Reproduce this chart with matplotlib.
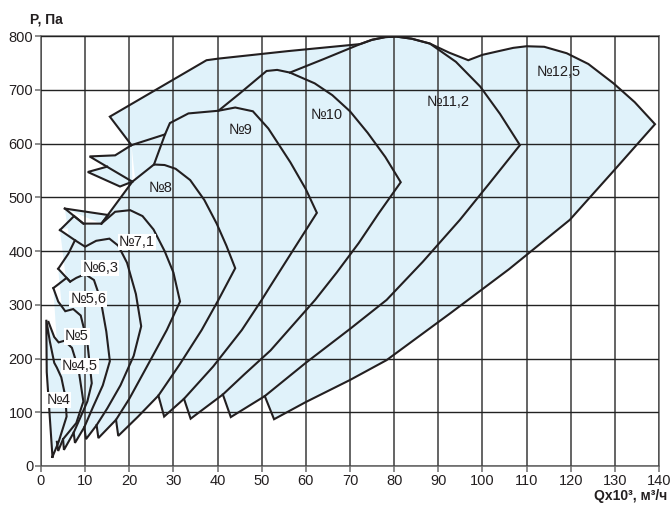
import matplotlib
matplotlib.use("Agg")
import matplotlib.pyplot as plt

# outline of every fan zone (Q in 10^3 m3/h, P in Pa):
# left tip, max pressure arc, right edge, lower limit curve, bottom notch
q_125 = [20.5, 15.6, 37.5, 40.2, 56, 72.3, 75, 78, 80.5, 84, 88.1, 92.5, 96.8, 100, 103.2, 107, 110, 114,
         119.1, 124, 129.7, 134.5, 139.1, 129.5, 119.8, 106, 92.7, 78.3, 70, 60, 52.8, 50.7]
p_125 = [597, 650, 755, 758, 772, 785, 793, 798, 799, 795, 786, 769, 755, 765, 771, 778, 781, 780,
         768, 748, 712, 677, 636, 547, 458, 366, 284, 197, 160, 119, 87, 130]

q_112 = [56.4, 64, 72.3, 75, 78, 80.5, 84, 88.1, 94, 99.5, 104, 108.5, 101.5, 94.9, 86.5, 78.3, 70, 60,
         50.7, 43, 41.2]
p_112 = [732, 757, 785, 793, 798, 799, 795, 786, 752, 706, 655, 597, 525, 458, 380, 309, 255, 192,
         130, 91, 133]

q_10 = [40.2, 45, 51.1, 53.5, 56.4, 62, 66, 70, 74, 78, 81.5, 76.5, 72, 67, 62.1, 52, 46, 41.2, 33.9, 32.4]
p_10 = [661, 693, 735, 737, 732, 712, 690, 660, 620, 575, 528, 470, 415, 360, 309, 215, 170, 133, 88, 125]

q_9 = [20.5, 28.1, 29.2, 33.4, 40.2, 44, 48, 51.5, 56.5, 60, 62.5, 57, 51.9, 50, 45.5, 39, 32.4, 27.9, 26.6]
p_9 = [597, 617, 638, 656, 661, 667, 660, 628, 565, 515, 471, 400, 334, 309, 253, 185, 125, 92, 131]

q_8 = [13.7, 20.7, 25.6, 28, 30.5, 33.8, 37, 39.8, 42, 44, 40.2, 36.4, 31.5, 26.6, 22, 17.5, 17]
p_8 = [451, 529, 561, 560, 553, 532, 495, 451, 410, 368, 309, 253, 190, 131, 92, 56, 86]

q_71 = [5.4, 9.6, 13.7, 16.8, 20.2, 23, 25.5, 28, 30, 31.5, 28.5, 24, 20, 17, 13, 12.6]
p_71 = [479, 451, 451, 473, 476, 465, 440, 400, 360, 306, 253, 185, 125, 86, 52, 76]

q_63 = [4.3, 7.7, 10, 12.5, 15.5, 17.5, 19.5, 21.5, 22.7, 21, 18, 15, 12.6, 10.2, 9.8]
p_63 = [439, 420, 408, 419, 423, 410, 378, 320, 260, 205, 150, 107, 76, 50, 72]

q_56 = [3.9, 6.6, 8, 10, 12, 13.5, 14.8, 15.6, 14, 11.8, 9.8, 7.7, 7.4]
p_56 = [367, 343, 350, 357, 346, 310, 250, 195, 150, 110, 72, 43, 62]

q_5 = [2.8, 3.9, 5.5, 7.3, 9, 10.5, 11.5, 10.5, 8.8, 7.4, 5.2, 5.0]
p_5 = [331, 306, 288, 292, 280, 230, 154, 120, 88, 62, 30, 50]

q_45 = [1.7, 3.0, 4.0, 5.3, 7, 8.5, 9.6, 8, 5, 3.9, 3.6]
p_45 = [268, 240, 230, 233, 220, 180, 120, 80, 50, 28, 45]

q_4 = [2.6, 1.3, 1.2, 2.0, 3.0, 3.6, 4.6, 5.5, 5.8, 4.0, 2.6]
p_4 = [17, 175, 272, 232, 192, 183, 165, 130, 92, 45, 17]

# small edges of the saw-tooth on the left side
tooth_a_q = [20.5, 16.8, 11.0, 20.7]
tooth_a_p = [597, 578, 576, 529]
tooth_b_q = [15.0, 10.6, 17.9, 20.7]
tooth_b_p = [557, 547, 520, 529]
arm_71_q = [13.7, 15.2, 5.4]
arm_71_p = [451, 467, 479]
arm_63_q = [9.6, 7.5, 4.3]
arm_63_p = [451, 465, 439]
arm_56_q = [7.7, 6.2, 3.9]
arm_56_p = [420, 395, 367]
arm_5_q = [6.6, 5.8, 2.8]
arm_5_p = [343, 350, 331]
edge_q = [28.1, 25.6]
edge_p = [617, 561]

fan_names = ["№4", "№4,5", "№5", "№5,6", "№6,3", "№7,1", "№8", "№9", "№10", "№11,2", "№12,5"]
label_q = [3.9, 8.8, 8.1, 10.7, 13.4, 21.7, 27, 45.1, 64.7, 92.3, 117.2]
label_p = [123, 186, 241, 311, 368, 417, 517, 625, 653, 678, 734]
boxed = [True, True, True, True, True, True, False, False, False, False, False]

pieces = [(q_4, p_4), (q_45, p_45), (q_5, p_5), (q_56, p_56), (q_63, p_63), (q_71, p_71),
          (q_8, p_8), (q_9, p_9), (q_10, p_10), (q_112, p_112), (q_125, p_125),
          (tooth_a_q, tooth_a_p), (tooth_b_q, tooth_b_p), (arm_71_q, arm_71_p),
          (arm_63_q, arm_63_p), (arm_56_q, arm_56_p), (arm_5_q, arm_5_p), (edge_q, edge_p)]

plt.rcParams["font.family"] = ["Liberation Sans", "DejaVu Sans"]

fig = plt.figure(figsize=(6.72, 5.09), dpi=100)
ax = fig.add_axes([0.061, 0.0845, 0.9196, 0.8447])

fill_col = "#e0f2fa"
line_col = "#231f20"

for q, p in pieces:
    ax.fill(q, p, color=fill_col, lw=0, zorder=1)

ax.set_xlim(0, 140)
ax.set_ylim(0, 800)
ax.set_xticks(range(0, 141, 10))
ax.set_yticks(range(0, 801, 100))
ax.xaxis.grid(True, color="#4a4a4a", lw=1.2, zorder=2)
ax.yaxis.grid(True, color="#222222", lw=1.0, zorder=2)
ax.set_axisbelow(False)

for q, p in pieces:
    ax.plot(q, p, color=line_col, lw=1.5, solid_joinstyle="miter", zorder=3)

for name, x, y, b in zip(fan_names, label_q, label_p, boxed):
    kw = {}
    if b:
        kw["bbox"] = dict(boxstyle="square,pad=0.08", fc="white", ec="none")
    ax.text(x, y, name, fontsize=10.5, color="#231f20", ha="center", va="center", zorder=4, **kw)

for s in ax.spines.values():
    s.set_color("#6d6d6d")
    s.set_linewidth(1.2)
ax.tick_params(length=4, width=1.1, color="#6d6d6d", labelsize=10.5, labelcolor="#231f20", pad=1.5)

fig.text(0.045, 0.962, "P, Па", fontsize=10, fontweight="bold", ha="left", va="center", color="#231f20")
fig.text(0.993, 0.026, "Qx10³, м³/ч", fontsize=10, fontweight="bold", ha="right", va="center",
         color="#231f20")

fig.savefig("out.png", dpi=100)
